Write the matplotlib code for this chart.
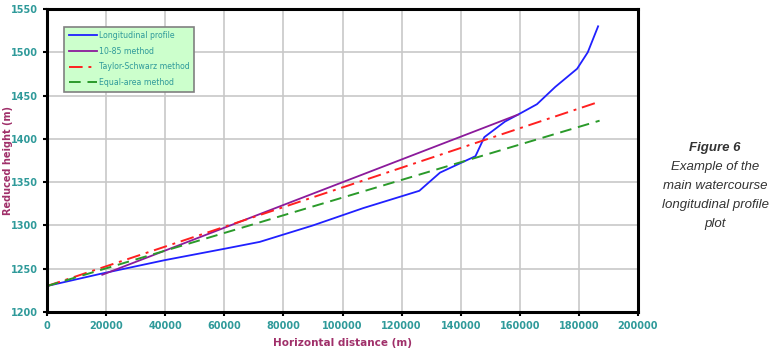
import matplotlib
matplotlib.use("Agg")
import matplotlib.pyplot as plt

# data
profile_x = [0, 18000, 40000, 60000, 72000, 90000, 107000, 126000, 133000, 145000,
             148000, 155000, 159400, 165800, 172000, 179400, 183000, 186500]
profile_y = [1230, 1244, 1260, 1273, 1281, 1300, 1320, 1340, 1361, 1380,
             1402, 1420, 1428, 1440, 1460, 1481, 1500, 1530]

m1085_x = [18700, 159400]
m1085_y = [1243, 1428]

taylor_x = [0, 187000]
taylor_y = [1230, 1443]

equal_x = [0, 187000]
equal_y = [1230, 1421]

x_ticks = list(range(0, 200001, 20000))
y_ticks = list(range(1200, 1551, 50))

caption_title = "Figure 6"
caption_lines = ["Example of the", "main watercourse", "longitudinal profile", "plot"]

tick_col = "#2f9a9a"
label_col = "#a0306a"

plt.rcParams["font.family"] = ["DejaVu Sans"]

fig = plt.figure(figsize=(7.72, 3.48), dpi=100)
ax = fig.add_axes([47 / 772, 1 - 312 / 348, (638 - 47) / 772, (312 - 9) / 348])

ax.plot(profile_x, profile_y, color="#2020ff", lw=1.3, label="Longitudinal profile")
ax.plot(m1085_x, m1085_y, color="#8b1a9b", lw=1.3, label="10-85 method")
ax.plot(taylor_x, taylor_y, color="#ff2020", lw=1.4, dashes=(7, 3, 1.5, 3),
        label="Taylor-Schwarz method")
ax.plot(equal_x, equal_y, color="#2a9a2a", lw=1.4, dashes=(6, 3.5),
        label="Equal-area method")

ax.set_xlim(0, 200000)
ax.set_ylim(1200, 1550)
ax.set_xticks(x_ticks)
ax.set_yticks(y_ticks)
ax.grid(True, color="#c8c8c8", lw=1.2)
ax.set_axisbelow(True)
for s in ax.spines.values():
    s.set_linewidth(2.2)
    s.set_color("black")
ax.tick_params(length=3, width=1.5, colors="black", labelcolor=tick_col,
               labelsize=7)
for t in ax.get_xticklabels() + ax.get_yticklabels():
    t.set_fontweight("bold")

ax.set_xlabel("Horizontal distance (m)", color=label_col, fontsize=7.5,
              fontweight="bold", labelpad=5)
ax.set_ylabel("Reduced height (m)", color=label_col, fontsize=7,
              fontweight="bold")
ax.yaxis.set_label_coords(-0.057, 0.5)

leg = ax.legend(loc="upper left", bbox_to_anchor=(0.022, 0.955), fontsize=5.6,
                frameon=True, fancybox=False, handlelength=3.6,
                labelspacing=0.85, borderpad=0.6, handletextpad=0.3)
leg.get_frame().set_facecolor("#ccffcc")
leg.get_frame().set_edgecolor("#808080")
leg.get_frame().set_linewidth(1.2)
leg.get_frame().set_alpha(1)
for t in leg.get_texts():
    t.set_color(tick_col)

cx = 715 / 772
fig.text(cx, 1 - 148 / 348, caption_title, ha="center", va="center",
         fontsize=9.5, fontweight="bold", style="italic", color="#333333",
         family="Liberation Sans")
for i, line in enumerate(caption_lines):
    fig.text(cx, 1 - (167 + 19 * i) / 348, line, ha="center", va="center",
             fontsize=9.5, style="italic", color="#333333", family="Liberation Sans")

fig.savefig("out.png", dpi=100)
